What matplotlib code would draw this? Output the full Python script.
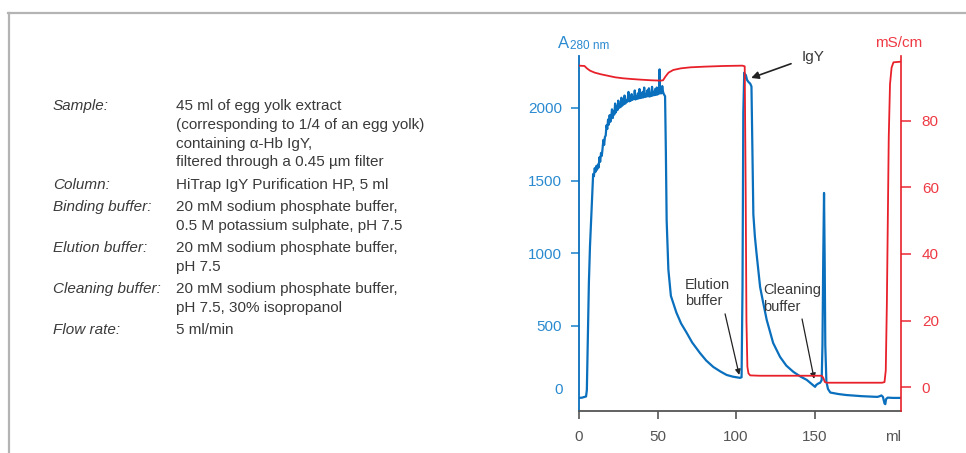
import matplotlib
matplotlib.use("Agg")
import matplotlib.pyplot as plt
from matplotlib.lines import Line2D

plt.rcParams['font.family'] = ['Liberation Sans', 'DejaVu Sans']

# ---------------- data ----------------
a280_ml = [0, 2, 3.5, 4.5, 5.0, 5.6, 6.3, 7.0, 7.8, 8.5, 9.0, 9.5, 10.0, 10.5, 11.0, 11.5, 12.0, 12.5,
           13.0, 13.5, 14.0, 14.5, 15.0, 15.5, 16.0, 16.5, 17.0, 17.5, 18.0, 18.5, 19.0, 19.5, 20.0, 20.5,
           21.0, 21.5, 22.0, 22.5, 23.0, 23.5, 24.0, 24.5, 25.0, 25.5, 26.0, 26.5, 27.0, 27.5, 28.0, 28.5,
           29.0, 29.5, 30.0, 30.5, 31.0, 31.5, 32.0, 32.5, 33.0, 33.5, 34.0, 34.5, 35.0, 35.5, 36.0, 36.5,
           37.0, 37.5, 38.0, 38.5, 39.0, 39.5, 40.0, 40.5, 41.0, 41.5, 42.0, 42.5, 43.0, 43.5, 44.0, 44.5,
           45.0, 45.5, 46.0, 46.5, 47.0, 47.5, 48.0, 48.5, 49.0, 49.5, 50.0, 50.5, 51.0, 51.3, 51.6, 52.0,
           52.5, 53.0, 53.5, 54.0, 54.8, 55.3, 55.8, 56.9, 58.5, 60, 62, 65, 68.6, 72, 77, 81, 85.5, 90,
           94, 98, 102.5, 103.5, 104.1, 104.6, 105.2, 105.6, 106.2, 107, 108, 109, 109.8, 110.3, 111, 112,
           113, 115.3, 117.3, 119.5, 123.6, 128, 132, 136.5, 141, 145, 148, 150.3, 151, 152.5, 153.5,
           154.5, 155, 155.5, 156, 156.4, 156.8, 157.5, 158.5, 160, 165, 170, 180, 190, 191.5, 192.5,
           193.5, 194.5, 195, 195.5, 196.5, 200, 205]
a280_val = [5, 7, 12, 15, 60, 400, 800, 1050, 1250, 1420, 1545, 1530, 1585, 1560, 1600, 1575, 1610, 1590,
            1660, 1630, 1690, 1670, 1720, 1780, 1745, 1800, 1810, 1880, 1855, 1920, 1885, 1950, 1905, 1935,
            1990, 1930, 1975, 1955, 2030, 1970, 2010, 1985, 2050, 2000, 2020, 2005, 2070, 2015, 2040, 2025,
            2085, 2030, 2055, 2040, 2060, 2110, 2045, 2070, 2050, 2095, 2055, 2075, 2060, 2120, 2058, 2080,
            2062, 2100, 2065, 2130, 2068, 2085, 2070, 2110, 2072, 2140, 2075, 2090, 2078, 2120, 2080, 2135,
            2078, 2100, 2082, 2145, 2085, 2110, 2088, 2130, 2090, 2140, 2092, 2120, 2100, 2265, 2100, 2130,
            2100, 2150, 2110, 2095, 2080, 1700, 1227, 887, 707, 657, 592, 517, 452, 387, 314, 262, 218, 187,
            163, 151, 143, 147, 767, 1967, 2242, 2207, 2227, 2192, 2177, 2167, 2147, 1767, 1267, 1112,
            1002, 768, 658, 542, 383, 287, 227, 184, 152, 129, 102, 81, 94, 105, 109,
            127, 367, 967, 1415, 967, 367, 117, 67, 42, 32, 25, 17, 12, 17, 22,
            12, -33, -38, -3, 7, 5, 5]

cond_ml = [0, 3.5, 5, 7, 10, 14, 18, 23, 28, 33, 39, 46, 52, 53.5, 55, 57, 60, 65, 71, 80, 92, 104,
           105.5, 106.1, 106.6, 107.2, 107.9, 109, 115, 154.5, 155.5, 156.5, 158, 193, 194.5, 195.3, 196,
           196.6, 197.2, 198, 199, 200.2, 205]
cond_val = [96.6, 96.5, 95.8, 95.1, 94.5, 94.0, 93.6, 93.1, 92.8, 92.6, 92.4, 92.2, 92.1, 92.2, 93.3, 94.5, 95.3, 95.8, 96.1, 96.3, 96.5, 96.6,
            96.4, 60, 20, 6.1, 4.1, 3.5, 3.4, 3.4, 2.8, 1.5, 1.3, 1.3, 1.5, 5, 25,
            50, 75, 91, 96, 97.6, 97.8]

x_ticks = [0, 50, 100, 150, 200]
x_ticklabels = ['0', '50', '100', '150', 'ml']
a280_ticks = [500, 1000, 1500, 2000]
a280_zero_label = '0'
cond_ticks = [0, 20, 40, 60, 80]

info_labels = ['Sample:', 'Column:', 'Binding buffer:', 'Elution buffer:', 'Cleaning buffer:', 'Flow rate:']
info_label_rows = [0, 4, 5, 7, 9, 11]
info_values = ['45 ml of egg yolk extract',
               '(corresponding to 1/4 of an egg yolk)',
               'containing \u03b1-Hb IgY,',
               'filtered through a 0.45 \u00b5m filter',
               'HiTrap IgY Purification HP, 5 ml',
               '20 mM sodium phosphate buffer,',
               '0.5 M potassium sulphate, pH 7.5',
               '20 mM sodium phosphate buffer,',
               'pH 7.5',
               '20 mM sodium phosphate buffer,',
               'pH 7.5, 30% isopropanol',
               '5 ml/min']
info_row_px = [106, 125, 144, 162, 185, 207, 226, 248, 267, 289, 308, 330]

# ---------------- style ----------------
BLUE = '#0a6fbd'
BLUE_T = '#2a8ad0'
RED = '#e8202a'
RED_T = '#ee3a44'
GRAY = '#555555'
TXT = '#3a3a3a'

W, H = 966, 453
fig = plt.figure(figsize=(W / 100, H / 100), dpi=100)

def fx(px):
    return px / W

def fy(py):
    return 1 - py / H

# frame
fig.add_artist(Line2D([fx(8), 1], [fy(13), fy(13)], transform=fig.transFigure, color='#b4b4b4', lw=1.6))
fig.add_artist(Line2D([fx(8.7), fx(8.7)], [0, fy(13)], transform=fig.transFigure, color='#b4b4b4', lw=1.6))

# info text
for lab, r in zip(info_labels, info_label_rows):
    fig.text(fx(53), fy(info_row_px[r]), lab, style='italic', fontsize=11, color=TXT, va='center', ha='left')
for val, py in zip(info_values, info_row_px):
    fig.text(fx(176), fy(py), val, fontsize=11, color=TXT, va='center', ha='left')

# axes
ax = fig.add_axes([fx(579), fy(411), fx(901) - fx(579), fy(56) - fy(411)])
ax2 = ax.twinx()

ax.plot(a280_ml, a280_val, color=BLUE, lw=1.6)
ax2.plot(cond_ml, cond_val, color=RED, lw=1.3)

ax.set_xlim(0, 205)
ax.set_ylim(-85, 2357)
ax2.set_ylim(-7.2, 99.5)

for s in ['top', 'right']:
    ax.spines[s].set_visible(False)
ax.spines['left'].set_color(BLUE)
ax.spines['left'].set_linewidth(1.3)
ax.spines['bottom'].set_color(GRAY)
ax.spines['bottom'].set_linewidth(1.3)
for s in ['top', 'left', 'bottom']:
    ax2.spines[s].set_visible(False)
ax2.spines['right'].set_color(RED)
ax2.spines['right'].set_linewidth(1.2)

ax.set_xticks(x_ticks, x_ticklabels)
ax.tick_params(axis='x', direction='out', length=6, width=1.2, color=GRAY, labelcolor=GRAY, labelsize=11, pad=8)
ax.xaxis.get_major_ticks()[-1].tick1line.set_visible(False)

ax.set_yticks(a280_ticks)
ax.tick_params(axis='y', direction='out', length=6, width=1.2, color=BLUE_T, labelcolor=BLUE_T, labelsize=11, pad=6)
# the zero label of the A280 axis sits slightly above the baseline, without a tick mark
fig.text(fx(562.5), fy(389.5), a280_zero_label, color=BLUE_T, fontsize=11, ha='right', va='center')

ax2.set_yticks(cond_ticks)
ax2.tick_params(axis='y', direction='out', length=7, width=1.2, color=RED_T, labelcolor=RED_T, labelsize=11, pad=8)

# axis titles
fig.text(fx(558), fy(43), 'A', color=BLUE_T, fontsize=12, va='center', ha='left')
fig.text(fx(570), fy(46), '280 nm', color=BLUE_T, fontsize=8.5, va='center', ha='left')
fig.text(fx(899), fy(43), 'mS/cm', color=RED_T, fontsize=11, va='center', ha='center')

# annotations
arrow = dict(arrowstyle='-|>', color='#222222', lw=0.9, mutation_scale=8, shrinkA=0, shrinkB=0)
ax.annotate('', xy=(109.6, 2206), xytext=(135, 2304),
            arrowprops=dict(arrowstyle='-|>', color='#222222', lw=1.2, mutation_scale=11, shrinkA=0, shrinkB=0))
ax.text(142, 2350, 'IgY', fontsize=11, color=TXT, va='center', ha='left')
ax.annotate('', xy=(102, 163), xytext=(93, 583), arrowprops=arrow)
ax.text(67.5, 727, 'Elution\nbuffer', fontsize=10.5, color=TXT, va='center', ha='left', linespacing=1.25)
ax.annotate('', xy=(149.7, 136), xytext=(142, 548), arrowprops=arrow)
ax.text(117, 689, 'Cleaning\nbuffer', fontsize=10.5, color=TXT, va='center', ha='left', linespacing=1.25)

fig.savefig('out.png', dpi=100)
